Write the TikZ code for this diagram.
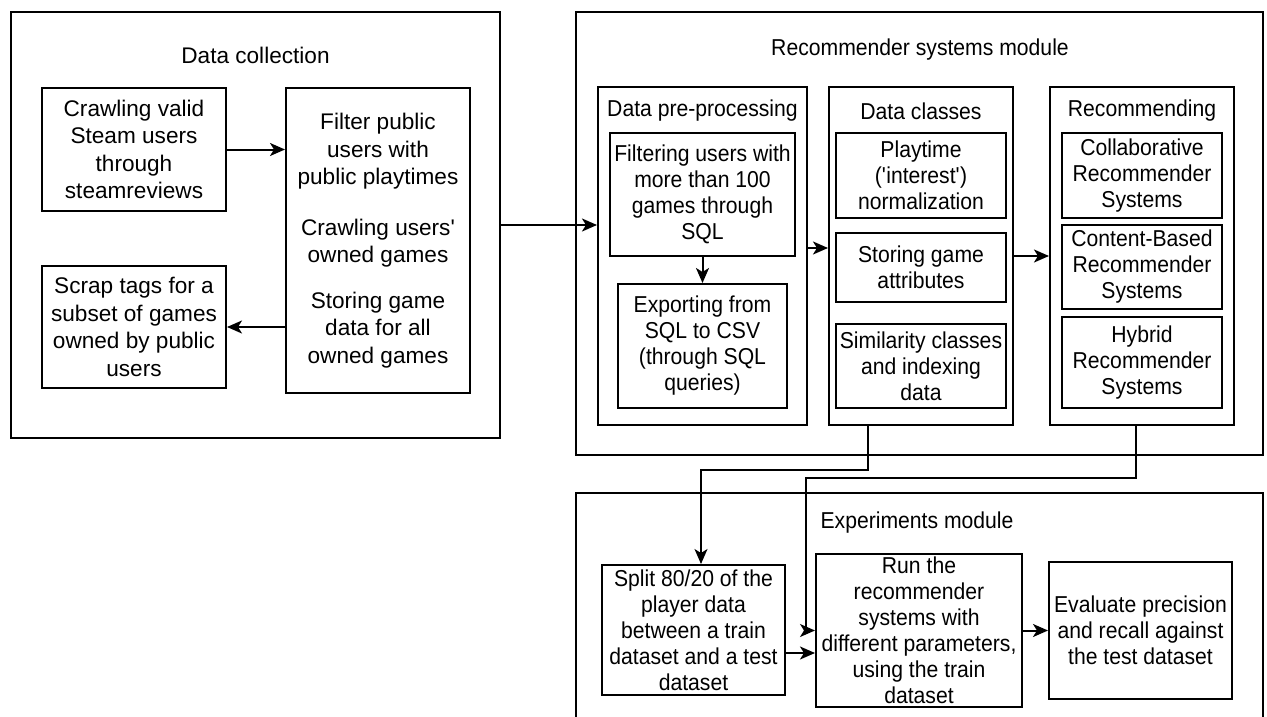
\documentclass[tikz,border=0pt]{standalone}
\usepackage{fontspec}
\setmainfont{Liberation Sans}
\newfontfamily\condfont[FakeStretch=0.92]{Liberation Sans}
\usetikzlibrary{arrows.meta}
\tikzset{
  box/.style={draw, line width=2pt, inner sep=0pt, align=center},
  ltxt/.style={font=\fontsize{22.6}{27.5}\selectfont},
  rtxt/.style={font=\condfont\fontsize{23}{26}\selectfont},
  ttl/.style={inner sep=0pt, align=center},
  arr/.style={line width=2pt, -{Stealth[length=15pt,width=13pt,inset=4pt]}},
  thinarr/.style={line width=1.3pt, -{Stealth[length=15pt,width=13pt,inset=4pt]}}
}
\begin{document}
\begin{tikzpicture}[x=1pt,y=-1pt]
\useasboundingbox (0,0) rectangle (1267,717);
% Data collection
\node[box, minimum width=489, minimum height=426] (dc) at (255.5,225) {};
\node[ttl, ltxt] (dctitle) at (255.5,55) {Data collection};
\node[box, ltxt, minimum width=184, minimum height=123] (crawl) at (134,149.5) {Crawling valid\\Steam users\\through\\steamreviews};
\node[box, ltxt, minimum width=184, minimum height=305] (filter) at (378,240.5) {Filter public\\users with\\public playtimes\\[23pt]Crawling users\textquotesingle\\owned games\\[18pt]Storing game\\data for all\\owned games};
\node[box, ltxt, minimum width=184, minimum height=122] (scrap) at (134,327) {Scrap tags for a\\subset of games\\owned by public\\users};
% Recommender systems module
\node[box, minimum width=687, minimum height=443] (recm) at (919.5,233.5) {};
\node[ttl, rtxt] (recmtitle) at (920,50) {Recommender systems module};
\node[box, minimum width=209, minimum height=337] (pre) at (702.5,256) {};
\node[ttl, rtxt] (pretitle) at (702.5,111) {Data pre-processing};
\node[box, rtxt, minimum width=185, minimum height=123] (filtering) at (702.5,194.5) {Filtering users with\\more than 100\\games through\\SQL};
\node[box, rtxt, minimum width=169, minimum height=124] (exporting) at (702.5,346) {Exporting from\\SQL to CSV\\(through SQL\\queries)};
\node[box, minimum width=184, minimum height=337] (classes) at (921,256) {};
\node[ttl, rtxt] (classestitle) at (921,111) {Data classes};
\node[box, rtxt, minimum width=170, minimum height=85] (playtime) at (921,175.5) {Playtime\\(\textquotesingle interest\textquotesingle)\\normalization};
\node[box, rtxt, minimum width=170, minimum height=69] (storing) at (921,267.5) {Storing game\\attributes};
\node[box, rtxt, minimum width=170, minimum height=84] (similarity) at (921,366) {Similarity classes\\and indexing\\data};
\node[box, minimum width=184, minimum height=337] (rec) at (1142,256) {};
\node[ttl, rtxt] (rectitle) at (1142,111) {Recommending};
\node[box, rtxt, minimum width=160, minimum height=85] (collab) at (1142,175.5) {Collaborative\\Recommender\\Systems};
\node[box, rtxt, minimum width=160, minimum height=84] (content) at (1142,267) {Content-Based\\Recommender\\Systems};
\node[box, rtxt, minimum width=160, minimum height=91] (hybrid) at (1142,362.5) {Hybrid\\Recommender\\Systems};
% Experiments module
\node[box, minimum width=687, minimum height=260] (exp) at (919.5,623) {};
\node[ttl, rtxt] (exptitle) at (917,523) {Experiments module};
\node[box, rtxt, minimum width=183, minimum height=130] (split) at (693.5,630) {Split 80/20 of the\\player data\\between a train\\dataset and a test\\dataset};
\node[box, rtxt, minimum width=206, minimum height=153] (run) at (919,630.5) {Run the\\recommender\\systems with\\different parameters,\\using the train\\dataset};
\node[box, rtxt, minimum width=183, minimum height=137] (eval) at (1140.5,630.5) {Evaluate precision\\and recall against\\the test dataset};
% connectors
\draw[arr] (crawl.east) -- (crawl.east -| filter.west);
\draw[arr] (filter.west |- scrap.east) -- (scrap.east);
\draw[arr] (dc.east) -- (dc.east -| pre.west);
\draw[arr] (filtering.south) -- (exporting.north);
\draw[arr] ([yshift=8pt]pre.east) -- ([yshift=8pt]pre.east -| classes.west);
\draw[arr] (classes.east) -- (classes.east -| rec.west);
\coordinate (k1) at (701,470);
\coordinate (k2) at (806,478);
\draw[thinarr] ([xshift=-53pt]classes.south) |- (k1) -- (k1 |- split.north);
\draw[thinarr] ([xshift=-6pt]rec.south) |- (k2) |- (run.west);
\draw[arr] ([yshift=-23pt]split.east) -- ([yshift=-23pt]split.east -| run.west);
\draw[arr] (run.east) -- (run.east -| eval.west);
\end{tikzpicture}
\end{document}
